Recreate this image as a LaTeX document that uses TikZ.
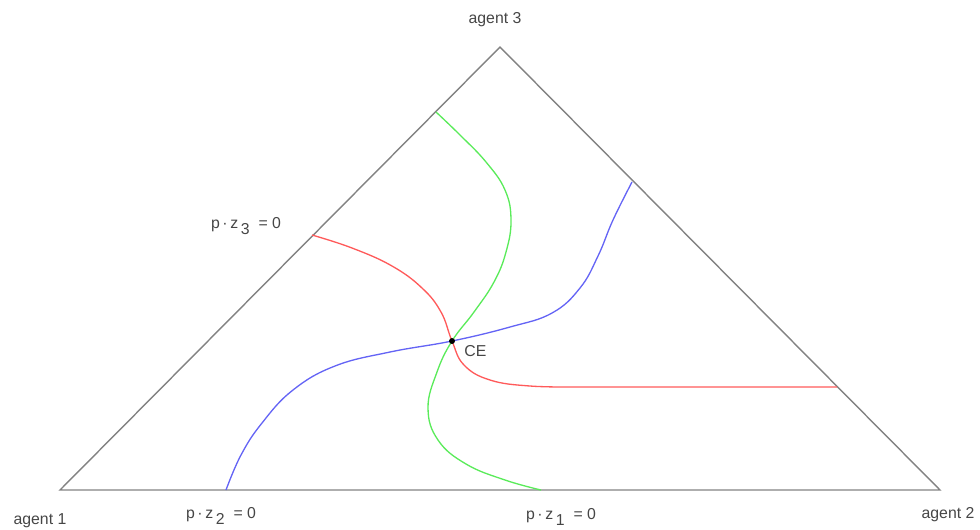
\documentclass[tikz,border=0pt]{standalone}
\usepackage{fontspec}
\setmainfont{Liberation Sans}
\usepackage{tikz}
\usetikzlibrary{positioning}
\definecolor{labgray}{RGB}{70,70,70}
\definecolor{edgegray}{RGB}{130,130,130}
\definecolor{pzred}{RGB}{255,90,90}
\definecolor{pzgreen}{RGB}{90,235,90}
\definecolor{pzblue}{RGB}{100,100,245}
\newcommand{\pz}[1]{p\,·\,z\,\raisebox{-0.4em}{#1}\ \ = 0}

\begin{document}
\begin{tikzpicture}[x=0.02cm, y=-0.02cm,
                  side/.style={draw=edgegray, line width=0.8pt},
                  lbl/.style={font=\fontsize{9}{10}\selectfont, text=labgray, inner sep=1pt},
                  curve/.style={line width=0.75pt, smooth, tension=0.7},
                  redc/.style={curve, draw=pzred},
                  greenc/.style={curve, draw=pzgreen},
                  bluec/.style={curve, draw=pzblue},
            ]
            \useasboundingbox (0,0) rectangle (980,529);
            % simplex corners
            \coordinate (a1) at (60,490);
            \coordinate (a2) at (940,490);
            \coordinate (a3) at (500,47);
            \draw[side] (a1) -- (a2) -- (a3) -- cycle;

            \node[lbl] (lab1) at (40,521) {agent 1};
            \node[lbl] (lab2) at (948,515) {agent 2};
            \node[lbl] (lab3) at (495,20) {agent 3};

            % equilibrium
            \coordinate (ce) at (452,341);

            % excess-demand curves
            \draw[redc] plot coordinates {(312,235) (352,248) (392,266) (422,288)
                  (441,312) (ce) (464,365) (490,380) (530,386) (580,387)}
                  -- (837,387);
            \draw[greenc] plot coordinates {(436,112) (460,135) (486,162) (505,190)
                  (511,220) (506,252) (494,282) (474,312) (ce) (437,372) (428,408)
                  (438,440) (466,464) (505,480) (541,490)};
            \draw[bluec] plot coordinates {(226,490) (241,455) (262,423) (293,390)
                  (335,366) (390,352) (ce) (510,327) (552,313) (580,288)
                  (598,256) (613,220) (632,182)};

            \node[lbl] (z3) at (246,226) {\pz{3}};
            \node[lbl] (z2) at (221,516) {\pz{2}};
            \node[lbl] (z1) at (561,517) {\pz{1}};

            \node[circle, fill=black, inner sep=1.2pt] (cept) at (ce) {};
            \node[lbl, right=4pt of cept, yshift=-6pt] (celab) {CE};
      \end{tikzpicture}
\end{document}
